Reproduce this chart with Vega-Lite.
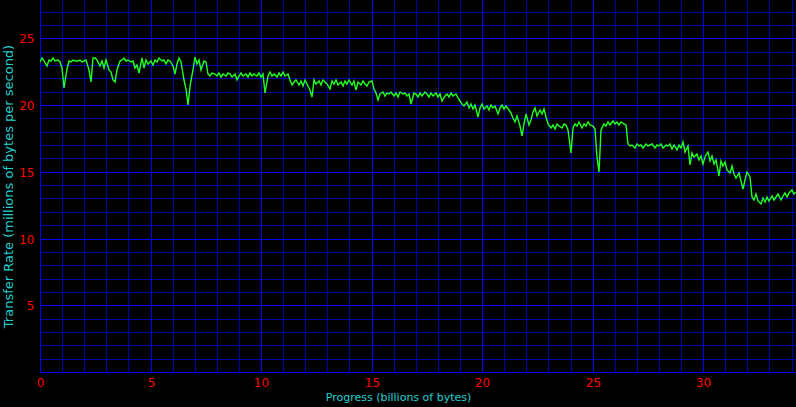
{
  "$schema": "https://vega.github.io/schema/vega-lite/v6.json",
  "width": 756,
  "height": 372,
  "autosize": {"type": "none"},
  "padding": {"left": 40, "top": 0, "right": 0, "bottom": 35},
  "background": "#000000",
  "config": {
    "view": {"stroke": null},
    "axis": {
      "labelFont": "DejaVu Sans",
      "labelFontSize": 12,
      "labelColor": "#ff0000",
      "titleFont": "DejaVu Sans",
      "titleFontWeight": "normal",
      "titleColor": "#20d0d0",
      "ticks": false,
      "domain": false,
      "grid": false,
      "gridOpacity": 0,
      "labelOverlap": false,
      "labelFlush": false
    }
  },
  "datasets": {
    "gx": [{"g":0},{"g":1},{"g":2},{"g":3},{"g":4},{"g":5},{"g":6},{"g":7},{"g":8},{"g":9},{"g":10},{"g":11},{"g":12},{"g":13},{"g":14},{"g":15},{"g":16},{"g":17},{"g":18},{"g":19},{"g":20},{"g":21},{"g":22},{"g":23},{"g":24},{"g":25},{"g":26},{"g":27},{"g":28},{"g":29},{"g":30},{"g":31},{"g":32},{"g":33},{"g":34}],
    "gy": [{"g":0},{"g":1},{"g":2},{"g":3},{"g":4},{"g":5},{"g":6},{"g":7},{"g":8},{"g":9},{"g":10},{"g":11},{"g":12},{"g":13},{"g":14},{"g":15},{"g":16},{"g":17},{"g":18},{"g":19},{"g":20},{"g":21},{"g":22},{"g":23},{"g":24},{"g":25},{"g":26},{"g":27}],
    "mx": [{"g":0},{"g":5},{"g":10},{"g":15},{"g":20},{"g":25},{"g":30}],
    "my": [{"g":0},{"g":5},{"g":10},{"g":15},{"g":20},{"g":25}],
    "rate": [
      {"x":0.0,"y":23.2},{"x":0.1,"y":23.5},{"x":0.2,"y":23.3},{"x":0.3,"y":22.9},{"x":0.4,"y":23.4},{"x":0.5,"y":23.3},{"x":0.6,"y":23.5},{"x":0.7,"y":23.3},{"x":0.8,"y":23.4},{"x":0.9,"y":23.2},
      {"x":1.0,"y":22.8},{"x":1.1,"y":21.3},{"x":1.2,"y":22.7},{"x":1.3,"y":23.3},{"x":1.4,"y":23.2},{"x":1.5,"y":23.4},{"x":1.6,"y":23.3},{"x":1.7,"y":23.3},{"x":1.8,"y":23.4},{"x":1.9,"y":23.2},
      {"x":2.0,"y":23.3},{"x":2.1,"y":23.4},{"x":2.2,"y":22.6},{"x":2.3,"y":21.7},{"x":2.4,"y":23.5},{"x":2.5,"y":23.5},{"x":2.6,"y":23.4},{"x":2.7,"y":22.9},{"x":2.8,"y":23.3},{"x":2.9,"y":22.8},
      {"x":3.0,"y":23.4},{"x":3.1,"y":22.6},{"x":3.2,"y":22.5},{"x":3.3,"y":21.9},{"x":3.4,"y":21.7},{"x":3.5,"y":22.6},{"x":3.6,"y":23.3},{"x":3.7,"y":23.4},{"x":3.8,"y":23.5},{"x":3.9,"y":23.3},
      {"x":4.0,"y":23.4},{"x":4.1,"y":23.2},{"x":4.2,"y":23.3},{"x":4.3,"y":22.8},{"x":4.4,"y":23.0},{"x":4.5,"y":22.4},{"x":4.6,"y":23.5},{"x":4.7,"y":22.8},{"x":4.8,"y":23.4},{"x":4.9,"y":23.1},
      {"x":5.0,"y":23.3},{"x":5.1,"y":23.0},{"x":5.2,"y":23.4},{"x":5.3,"y":23.2},{"x":5.4,"y":23.5},{"x":5.5,"y":23.3},{"x":5.6,"y":23.4},{"x":5.7,"y":23.1},{"x":5.8,"y":23.4},{"x":5.9,"y":23.3},
      {"x":6.0,"y":22.9},{"x":6.1,"y":22.3},{"x":6.2,"y":23.1},{"x":6.3,"y":23.5},{"x":6.4,"y":23.2},{"x":6.5,"y":21.9},{"x":6.6,"y":21.2},{"x":6.7,"y":20.0},{"x":6.8,"y":21.4},{"x":6.9,"y":22.6},
      {"x":7.0,"y":23.6},{"x":7.1,"y":23.1},{"x":7.2,"y":23.4},{"x":7.3,"y":22.6},{"x":7.4,"y":23.3},{"x":7.5,"y":23.2},{"x":7.6,"y":22.3},{"x":7.7,"y":22.2},{"x":7.8,"y":22.4},{"x":7.9,"y":22.3},
      {"x":8.0,"y":22.2},{"x":8.1,"y":22.4},{"x":8.2,"y":22.1},{"x":8.3,"y":22.3},{"x":8.4,"y":22.2},{"x":8.5,"y":22.4},{"x":8.6,"y":22.3},{"x":8.7,"y":22.1},{"x":8.8,"y":22.3},{"x":8.9,"y":21.9},
      {"x":9.0,"y":22.2},{"x":9.1,"y":22.4},{"x":9.2,"y":22.2},{"x":9.3,"y":22.3},{"x":9.4,"y":22.1},{"x":9.5,"y":22.4},{"x":9.6,"y":22.2},{"x":9.7,"y":22.3},{"x":9.8,"y":22.2},{"x":9.9,"y":22.4},
      {"x":10.0,"y":22.1},{"x":10.1,"y":22.3},{"x":10.2,"y":20.9},{"x":10.3,"y":22.2},{"x":10.4,"y":22.5},{"x":10.5,"y":22.2},{"x":10.6,"y":22.3},{"x":10.7,"y":22.1},{"x":10.8,"y":22.4},{"x":10.9,"y":22.2},
      {"x":11.0,"y":22.5},{"x":11.1,"y":22.2},{"x":11.2,"y":22.3},{"x":11.3,"y":21.9},{"x":11.4,"y":21.5},{"x":11.5,"y":21.7},{"x":11.6,"y":21.9},{"x":11.7,"y":21.5},{"x":11.8,"y":21.8},{"x":11.9,"y":21.4},
      {"x":12.0,"y":21.9},{"x":12.1,"y":21.6},{"x":12.2,"y":21.1},{"x":12.3,"y":20.6},{"x":12.4,"y":21.9},{"x":12.5,"y":21.6},{"x":12.6,"y":21.8},{"x":12.7,"y":21.5},{"x":12.8,"y":21.9},{"x":12.9,"y":21.7},
      {"x":13.0,"y":21.6},{"x":13.1,"y":21.2},{"x":13.2,"y":21.8},{"x":13.3,"y":21.6},{"x":13.4,"y":21.9},{"x":13.5,"y":21.5},{"x":13.6,"y":21.7},{"x":13.7,"y":21.4},{"x":13.8,"y":21.8},{"x":13.9,"y":21.6},
      {"x":14.0,"y":21.9},{"x":14.1,"y":21.5},{"x":14.2,"y":21.8},{"x":14.3,"y":21.1},{"x":14.4,"y":21.7},{"x":14.5,"y":21.5},{"x":14.6,"y":21.8},{"x":14.7,"y":21.6},{"x":14.8,"y":21.4},{"x":14.9,"y":21.7},
      {"x":15.0,"y":21.8},{"x":15.1,"y":21.2},{"x":15.2,"y":20.9},{"x":15.3,"y":20.4},{"x":15.4,"y":20.8},{"x":15.5,"y":21.0},{"x":15.6,"y":20.7},{"x":15.7,"y":20.9},{"x":15.8,"y":20.8},{"x":15.9,"y":21.0},
      {"x":16.0,"y":20.7},{"x":16.1,"y":20.9},{"x":16.2,"y":20.6},{"x":16.3,"y":21.0},{"x":16.4,"y":20.8},{"x":16.5,"y":20.9},{"x":16.6,"y":20.7},{"x":16.7,"y":20.8},{"x":16.8,"y":20.1},{"x":16.9,"y":20.9},
      {"x":17.0,"y":20.8},{"x":17.1,"y":20.6},{"x":17.2,"y":20.9},{"x":17.3,"y":20.7},{"x":17.4,"y":21.0},{"x":17.5,"y":20.8},{"x":17.6,"y":20.6},{"x":17.7,"y":20.9},{"x":17.8,"y":20.7},{"x":17.9,"y":20.9},
      {"x":18.0,"y":20.6},{"x":18.1,"y":20.8},{"x":18.2,"y":20.3},{"x":18.3,"y":20.7},{"x":18.4,"y":20.8},{"x":18.5,"y":20.6},{"x":18.6,"y":20.9},{"x":18.7,"y":20.7},{"x":18.8,"y":20.8},{"x":18.9,"y":20.5},
      {"x":19.0,"y":20.3},{"x":19.1,"y":20.1},{"x":19.2,"y":19.9},{"x":19.3,"y":20.2},{"x":19.4,"y":19.8},{"x":19.5,"y":20.1},{"x":19.6,"y":19.7},{"x":19.7,"y":20.0},{"x":19.8,"y":19.1},{"x":19.9,"y":19.8},
      {"x":20.0,"y":20.1},{"x":20.1,"y":19.7},{"x":20.2,"y":19.9},{"x":20.3,"y":19.6},{"x":20.4,"y":20.0},{"x":20.5,"y":19.8},{"x":20.6,"y":19.9},{"x":20.7,"y":19.3},{"x":20.8,"y":19.8},{"x":20.9,"y":20.0},
      {"x":21.0,"y":19.7},{"x":21.1,"y":19.9},{"x":21.2,"y":19.6},{"x":21.3,"y":19.4},{"x":21.4,"y":19.0},{"x":21.5,"y":18.7},{"x":21.6,"y":19.2},{"x":21.7,"y":18.4},{"x":21.8,"y":17.7},{"x":21.9,"y":18.6},
      {"x":22.0,"y":19.3},{"x":22.1,"y":18.5},{"x":22.2,"y":18.9},{"x":22.3,"y":19.5},{"x":22.4,"y":19.8},{"x":22.5,"y":19.2},{"x":22.6,"y":19.6},{"x":22.7,"y":19.3},{"x":22.8,"y":19.7},{"x":22.9,"y":19.1},
      {"x":23.0,"y":18.6},{"x":23.1,"y":18.3},{"x":23.2,"y":18.5},{"x":23.3,"y":18.2},{"x":23.4,"y":18.6},{"x":23.5,"y":18.4},{"x":23.6,"y":18.3},{"x":23.7,"y":18.6},{"x":23.8,"y":18.5},{"x":23.9,"y":18.1},
      {"x":24.0,"y":16.4},{"x":24.1,"y":18.3},{"x":24.2,"y":18.6},{"x":24.3,"y":18.4},{"x":24.4,"y":18.7},{"x":24.5,"y":18.3},{"x":24.6,"y":18.6},{"x":24.7,"y":18.4},{"x":24.8,"y":18.7},{"x":24.9,"y":18.5},
      {"x":25.0,"y":18.4},{"x":25.1,"y":18.2},{"x":25.2,"y":16.1},{"x":25.3,"y":15.0},{"x":25.4,"y":18.1},{"x":25.5,"y":18.6},{"x":25.6,"y":18.4},{"x":25.7,"y":18.7},{"x":25.8,"y":18.5},{"x":25.9,"y":18.8},
      {"x":26.0,"y":18.6},{"x":26.1,"y":18.7},{"x":26.2,"y":18.5},{"x":26.3,"y":18.7},{"x":26.4,"y":18.6},{"x":26.5,"y":18.5},{"x":26.6,"y":17.1},{"x":26.7,"y":16.9},{"x":26.8,"y":17.0},{"x":26.9,"y":16.8},
      {"x":27.0,"y":17.1},{"x":27.1,"y":16.9},{"x":27.2,"y":17.0},{"x":27.3,"y":16.8},{"x":27.4,"y":17.1},{"x":27.5,"y":16.9},{"x":27.6,"y":17.0},{"x":27.7,"y":17.1},{"x":27.8,"y":16.8},{"x":27.9,"y":17.0},
      {"x":28.0,"y":16.9},{"x":28.1,"y":17.1},{"x":28.2,"y":16.8},{"x":28.3,"y":17.0},{"x":28.4,"y":16.9},{"x":28.5,"y":17.1},{"x":28.6,"y":16.7},{"x":28.7,"y":17.0},{"x":28.8,"y":16.6},{"x":28.9,"y":17.0},
      {"x":29.0,"y":16.8},{"x":29.1,"y":17.2},{"x":29.2,"y":16.5},{"x":29.3,"y":16.9},{"x":29.4,"y":15.5},{"x":29.5,"y":16.4},{"x":29.6,"y":16.1},{"x":29.7,"y":16.3},{"x":29.8,"y":15.9},{"x":29.9,"y":16.2},
      {"x":30.0,"y":15.6},{"x":30.1,"y":16.1},{"x":30.2,"y":16.5},{"x":30.3,"y":15.8},{"x":30.4,"y":16.2},{"x":30.5,"y":15.6},{"x":30.6,"y":15.9},{"x":30.7,"y":14.7},{"x":30.8,"y":15.8},{"x":30.9,"y":15.4},
      {"x":31.0,"y":15.7},{"x":31.1,"y":15.1},{"x":31.2,"y":14.9},{"x":31.3,"y":15.4},{"x":31.4,"y":14.8},{"x":31.5,"y":14.5},{"x":31.6,"y":14.9},{"x":31.7,"y":14.3},{"x":31.8,"y":13.7},{"x":31.9,"y":14.4},
      {"x":32.0,"y":15.0},{"x":32.1,"y":14.6},{"x":32.2,"y":13.1},{"x":32.3,"y":12.9},{"x":32.4,"y":13.3},{"x":32.5,"y":12.8},{"x":32.6,"y":12.6},{"x":32.7,"y":13.0},{"x":32.8,"y":12.7},{"x":32.9,"y":13.1},
      {"x":33.0,"y":12.8},{"x":33.1,"y":13.2},{"x":33.2,"y":12.9},{"x":33.3,"y":13.1},{"x":33.4,"y":13.3},{"x":33.5,"y":12.9},{"x":33.6,"y":13.2},{"x":33.7,"y":13.4},{"x":33.8,"y":13.1},{"x":33.9,"y":13.4},
      {"x":34.0,"y":13.6},{"x":34.1,"y":13.3},{"x":34.2,"y":13.5}
    ]
  },
  "layer": [
    {
      "data": {"name": "gx"},
      "mark": {"type": "rule", "color": "#0000a8", "strokeWidth": 1, "xOffset": 0.5},
      "encoding": {"x": {"field": "g", "type": "quantitative"}}
    },
    {
      "data": {"name": "gy"},
      "mark": {"type": "rule", "color": "#0000a8", "strokeWidth": 1, "yOffset": 0.5},
      "encoding": {"y": {"field": "g", "type": "quantitative"}}
    },
    {
      "data": {"name": "mx"},
      "mark": {"type": "rule", "color": "#0000ff", "strokeWidth": 1, "xOffset": 0.5},
      "encoding": {"x": {"field": "g", "type": "quantitative"}}
    },
    {
      "data": {"name": "my"},
      "mark": {"type": "rule", "color": "#0000ff", "strokeWidth": 1, "yOffset": 0.5},
      "encoding": {"y": {"field": "g", "type": "quantitative"}}
    },
    {
      "data": {"name": "rate"},
      "mark": {"type": "line", "color": "#22ff22", "strokeWidth": 1.4, "clip": true},
      "encoding": {
        "x": {
          "field": "x",
          "type": "quantitative",
          "scale": {"domain": [0, 34.2], "nice": false, "zero": false, "round": true},
          "axis": {
            "grid": false,
            "values": [0, 5, 10, 15, 20, 25, 30],
            "labelPadding": 5,
            "title": "Progress (billions of bytes)",
            "titleFontSize": 11,
            "titlePadding": 3,
            "titleX": 358
          }
        },
        "y": {
          "field": "y",
          "type": "quantitative",
          "scale": {"domain": [0, 27.87], "nice": false, "zero": false, "round": true},
          "axis": {
            "grid": false,
            "values": [5, 10, 15, 20, 25],
            "labelPadding": 6,
            "title": "Transfer Rate (millions of bytes per second)",
            "titleFontSize": 13,
            "titlePadding": 3
          }
        }
      }
    }
  ]
}
